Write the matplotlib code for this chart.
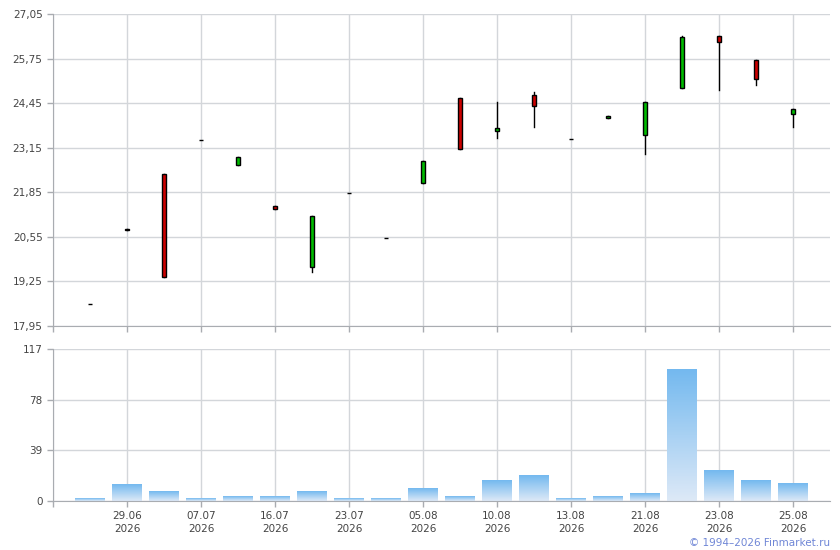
import numpy as np
import matplotlib
matplotlib.use("Agg")
import matplotlib.pyplot as plt
from matplotlib.patches import Rectangle

# Daily candles
opens = [18.58, 20.78, 22.37, 23.37, 22.64, 21.44, 19.68, 21.82, 20.51, 22.13,
         24.59, 23.63, 24.68, 23.39, 24.01, 23.51, 24.88, 26.40, 25.70, 24.12]
highs = [18.58, 20.78, 22.37, 23.37, 22.87, 21.44, 21.15, 21.82, 20.51, 22.75,
         24.59, 24.47, 24.77, 23.39, 24.07, 24.47, 26.41, 26.40, 25.70, 24.28]
lows = [18.58, 20.74, 19.37, 23.37, 22.64, 21.37, 19.53, 21.82, 20.51, 22.13,
        23.12, 23.44, 23.76, 23.39, 24.01, 22.98, 24.88, 24.84, 24.99, 23.76]
closes = [18.58, 20.74, 19.37, 23.37, 22.87, 21.37, 21.15, 21.82, 20.51, 22.75,
          23.12, 23.72, 24.38, 23.39, 24.07, 24.47, 26.37, 26.22, 25.14, 24.28]
volumes = [2, 13, 7, 2, 3.5, 3.5, 7, 2, 2, 9.5,
           3.5, 15.5, 19.5, 2, 3.5, 6, 101, 23.5, 15.5, 13.5]

date_labels = ["29.06", "07.07", "16.07", "23.07", "05.08",
               "10.08", "13.08", "21.08", "23.08", "25.08"]
year_label = "2026"

price_ticks = [17.95, 19.25, 20.55, 21.85, 23.15, 24.45, 25.75, 27.05]
volume_ticks = [0, 39, 78, 117]

grid_color = "#d3d6da"
spine_color = "#a9acb1"
text_color = "#444444"

x = np.arange(1, len(opens) + 1)
date_pos = x[1::2]

fig = plt.figure(figsize=(8.4, 5.5), dpi=100)
ax = fig.add_axes([53 / 840, 1 - 326 / 550, 777 / 840, 312 / 550])
axv = fig.add_axes([53 / 840, 1 - 501 / 550, 777 / 840, 152 / 550])

for a in (ax, axv):
    a.set_xlim(0, 21)
    for s in ("top", "right"):
        a.spines[s].set_visible(False)
    a.spines["left"].set_color(spine_color)
    a.spines["bottom"].set_color(spine_color)
    a.set_xticks([0] + list(date_pos))
    a.tick_params(colors=spine_color, labelcolor=text_color, labelsize=7.5,
                  length=4, width=1)
    a.grid(True, color=grid_color, linewidth=1)
    a.set_axisbelow(True)

# price panel
ax.set_ylim(price_ticks[0], price_ticks[-1])
ax.set_yticks(price_ticks)
ax.set_yticklabels([f"{t:.2f}".replace(".", ",") for t in price_ticks])
ax.set_xticklabels([])

body_w = 0.12
for xi, o, h, l, c in zip(x, opens, highs, lows, closes):
    ax.plot([xi, xi], [l, h], color="black", linewidth=1, zorder=2)
    color = "#00bb00" if c >= o else "#cc0000"
    bottom = min(o, c)
    height = max(abs(c - o), 0.015)
    ax.add_patch(Rectangle((xi - body_w / 2, bottom), body_w, height,
                           facecolor=color, edgecolor="black", linewidth=1,
                           zorder=3))

# volume panel with vertical gradient bars
axv.set_ylim(0, 117)
axv.set_yticks(volume_ticks)
axv.set_xticklabels([""] + [f"{d}\n{year_label}" for d in date_labels],
                    linespacing=1.3)
grad = np.linspace(0, 1, 100).reshape(-1, 1)
cmap = matplotlib.colors.LinearSegmentedColormap.from_list(
    "vol", ["#dde9f7", "#74b9ef"])
bar_w = 0.8
for xi, v in zip(x, volumes):
    axv.imshow(grad, extent=[xi - bar_w / 2, xi + bar_w / 2, 0, v],
               origin="lower", aspect="auto", cmap=cmap, zorder=2)
axv.set_xlim(0, 21)
axv.set_ylim(0, 117)

fig.text(830 / 840, 1 - 543 / 550, "© 1994–2026 Finmarket.ru",
         ha="right", va="center", fontsize=7.5, color="#6f86d6")

fig.savefig("out.png", dpi=100)
